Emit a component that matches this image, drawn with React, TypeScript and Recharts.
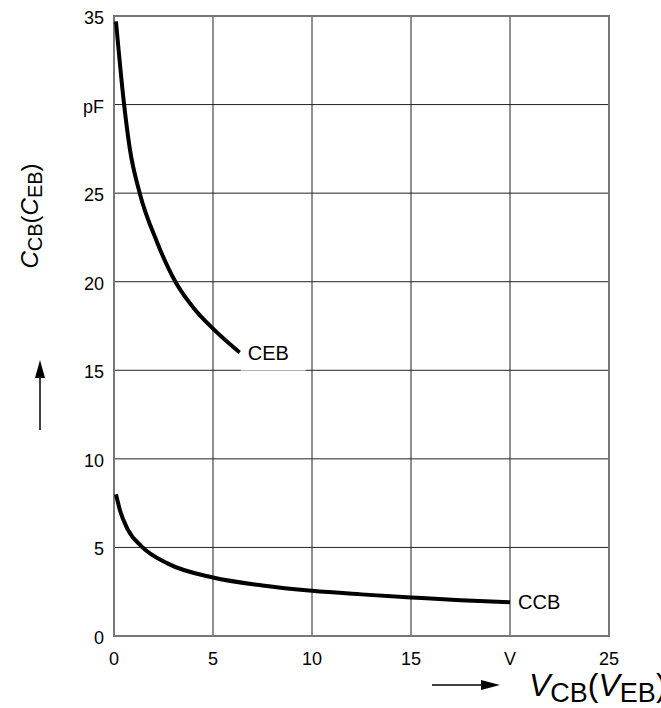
import { CartesianGrid, Line, LineChart, ReferenceArea, XAxis, YAxis } from "recharts";

const xTicks = [0, 5, 10, 15, 20, 25];
const yTicks = [0, 5, 10, 15, 20, 25, 30, 35];
const xTickLabels: Record<number, string> = { 20: "V" };
const yTickLabels: Record<number, string> = { 30: "pF" };

const cebV = [0.1, 0.5, 0.8, 1.3, 2.15, 3.1, 4, 5, 6.35];
const cebC = [34.7, 30.1, 27.5, 25.0, 22.3, 20.0, 18.55, 17.35, 16.0];

const ccbV = [0.1, 0.3, 0.7, 1.4, 2.7, 5, 7.5, 10, 12.5, 15, 17.5, 20];
const ccbC = [8.0, 7.1, 6.0, 5.05, 4.1, 3.3, 2.85, 2.55, 2.35, 2.18, 2.02, 1.9];

const ceb = cebV.map((v, i) => ({ v, c: cebC[i] }));
const ccb = ccbV.map((v, i) => ({ v, c: ccbC[i] }));

const font = "'Liberation Sans', Arial, sans-serif";

function endLabel(name: string, last: number, boxX: number, boxW: number) {
  return (props: any) => {
    if (props.index !== last) return null;
    const { x, y } = props;
    return (
      <g>
        <rect x={x + boxX} y={y - 20} width={boxW} height={38} fill="#fff" />
        <text x={x + 8} y={y + 7} fontSize={20} fontFamily={font} fill="#000">
          {name}
        </text>
      </g>
    );
  };
}

const XTick = (props: any) => {
  const { x, y, payload } = props;
  const t = xTickLabels[payload.value] ?? String(payload.value);
  return (
    <text x={x} y={y + 27} textAnchor="middle" fontSize={18} fontFamily={font} fill="#000">
      {t}
    </text>
  );
};

const YTick = (props: any) => {
  const { x, y, payload } = props;
  const t = yTickLabels[payload.value] ?? String(payload.value);
  return (
    <text x={x} y={y + 8} textAnchor="end" fontSize={18} fontFamily={font} fill="#000">
      {t}
    </text>
  );
};

export default function App() {
  return (
    <div style={{ position: "absolute", left: 0, top: 0, width: 661, height: 708, background: "#fff", overflow: "hidden" }}>
      <LineChart width={661} height={708} margin={{ top: 16, right: 52, bottom: 0, left: 0 }}>
        <CartesianGrid stroke="#222" strokeWidth={1} />
        <XAxis
          type="number"
          dataKey="v"
          domain={[0, 25]}
          ticks={xTicks}
          height={72}
          tickLine={false}
          axisLine={false}
          tickSize={0}
          tick={<XTick />}
          allowDataOverflow
        />
        <YAxis
          type="number"
          dataKey="c"
          domain={[0, 35]}
          ticks={yTicks}
          width={114}
          tickLine={false}
          axisLine={false}
          tickSize={0}
          tickMargin={10}
          tick={<YTick />}
          allowDataOverflow
        />
        <ReferenceArea x1={0} x2={25} y1={0} y2={35} fill="none" stroke="#777" strokeWidth={2} ifOverflow="visible" />
        <Line
          data={ceb}
          dataKey="c"
          type="monotone"
          stroke="#000"
          strokeWidth={4}
          dot={false}
          isAnimationActive={false}
          label={endLabel("CEB", ceb.length - 1, 1, 65)}
        />
        <Line
          data={ccb}
          dataKey="c"
          type="monotone"
          stroke="#000"
          strokeWidth={4}
          dot={false}
          isAnimationActive={false}
          label={endLabel("CCB", ccb.length - 1, 3, 50)}
        />
      </LineChart>
      <svg width={661} height={708} style={{ position: "absolute", left: 0, top: 0, pointerEvents: "none" }}>
        <text
          transform="translate(38 216) rotate(-90)"
          textAnchor="middle"
          fontSize={24}
          fontFamily={font}
          fill="#000"
        >
          <tspan fontStyle="italic">C</tspan>
          <tspan fontSize={20} dy={4}>CB</tspan>
          <tspan dy={-4}>(</tspan>
          <tspan fontStyle="italic">C</tspan>
          <tspan fontSize={20} dy={4}>EB</tspan>
          <tspan dy={-4}>)</tspan>
        </text>
        <line x1={40} y1={430} x2={40} y2={372} stroke="#000" strokeWidth={1.5} />
        <polygon points="40,360 35,378 45,378" fill="#000" />
        <line x1={432} y1={685} x2={484} y2={685} stroke="#000" strokeWidth={1.5} />
        <polygon points="500,685 481,680 481,690" fill="#000" />
        <text x={529} y={696} fontSize={32} fontFamily={font} fill="#000">
          <tspan fontStyle="italic">V</tspan>
          <tspan fontSize={27} dy={6}>CB</tspan>
          <tspan dy={-6}>(</tspan>
          <tspan fontStyle="italic">V</tspan>
          <tspan fontSize={27} dy={6}>EB</tspan>
          <tspan dy={-6}>)</tspan>
        </text>
      </svg>
    </div>
  );
}
